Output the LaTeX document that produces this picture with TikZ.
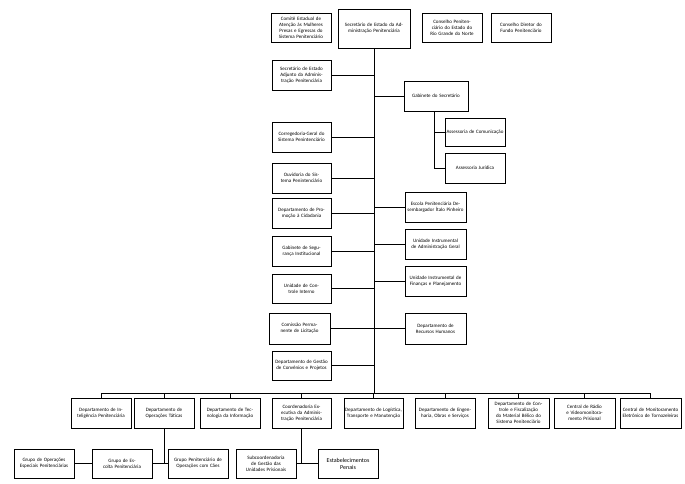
\documentclass[tikz,border=0pt]{standalone}
\usepackage{fontspec}
\setmainfont{Carlito}
\begin{document}
\begin{tikzpicture}[x=1pt,y=-1pt,
 bx/.style={draw,line width=0.8pt,align=center,font=\fontsize{5}{6}\selectfont,inner sep=1pt},
 ln/.style={line width=0.8pt}]
\useasboundingbox (0,0) rectangle (685,484);
\newcommand\bb[6]{\node[bx,minimum width={#4-#2},minimum height={#5-#3},text width={#4-#2-2}] (#1) at ({(#2+#4)/2},{(#3+#5)/2}) {#6};}
\bb{com}{271}{13}{331}{42}{Comitê Estadual de Atenção às Mulheres Presas e Egressas do Sistema Penitenciário}
\bb{sec}{338}{9}{410}{48}{Secretário de Estado da Administração Penitenciária}
\bb{cp}{422}{13}{482}{42}{Conselho Penitenciário do Estado do Rio Grande do Norte}
\bb{cd}{491}{13}{551}{42}{Conselho Diretor do Fundo Penitenciário}
\bb{adj}{272}{60}{331}{90}{Secretário de Estado Adjunto da Administração Penitenciária}
\bb{gab}{404}{81}{468}{111}{Gabinete do Secretário}
\bb{acom}{445}{118}{505}{146}{Assessoria de Comunicação}
\bb{ajur}{445}{153}{505}{183}{Assessoria Jurídica}
\bb{cor}{272}{122}{331}{152}{Corregedoria-Geral do Sistema Penintenciário}
\bb{ouv}{272}{163}{331}{193}{Ouvidoria do Sistema Penintenciário}
\bb{pro}{272}{198}{331}{228}{Departamento de Promoção à Cidadania}
\bb{esc}{405}{192}{466}{222}{Escola Penitenciária Desembargador Ítalo Pinheiro}
\bb{gsi}{272}{236}{331}{266}{Gabinete de Segurança Institucional}
\bb{uag}{405}{229}{466}{259}{Unidade Instrumental de Administração Geral}
\bb{uci}{272}{274}{331}{303}{Unidade de Controle Interno}
\bb{ufp}{405}{266}{466}{296}{Unidade Instrumental de Finanças e Planejamento}
\bb{cpl}{269}{313}{330}{344}{Comissão Permanente de Licitação}
\bb{drh}{405}{313}{466}{344}{Departamento de Recursos Humanos}
\bb{dgc}{272}{351}{331}{380}{Departamento de Gestão de Convênios e Projetos}
\bb{int}{71}{398}{131}{428}{Departamento de Inteligência Penitenciária}
\bb{opt}{134}{398}{194}{428}{Departamento de Operações Táticas}
\bb{ti}{200}{398}{260}{428}{Departamento de Tecnologia da Informação}
\bb{coe}{272}{398}{331}{428}{Coordenadoria Executiva da Administração Penitenciária}
\bb{log}{344}{398}{403}{428}{Departamento de Logística, Transporte e Manutenção}
\bb{eng}{415}{398}{475}{428}{Departamento de Engenharia, Obras e Serviços}
\bb{cfm}{488}{398}{549}{428}{Departamento de Controle e Fiscalização do Material Bélico do Sistema Penitenciário}
\bb{rad}{554}{398}{615}{428}{Central de Rádio e Videomonitoramento Prisional}
\bb{tor}{620}{398}{681}{428}{Central de Monitoramento Eletrônico de Tornozeleiras}
\bb{goe}{14}{449}{74}{478}{Grupo de Operações Especiais Penitenciárias}
\bb{gep}{92}{449}{152}{478}{Grupo de Escolta Penitenciária}
\bb{gco}{168}{449}{228}{478}{Grupo Penitenciário de Operações com Cães}
\bb{sub}{236}{449}{296}{478}{Subcoordenadoria de Gestão das Unidades Prisionais}
\node[bx,font=\fontsize{6}{7}\selectfont,minimum width=60,minimum height=29,text width=58] (est) at (348,463.5) {Estabelecimentos Penais};
% spine
\coordinate (sp) at (374,393);
\draw[ln] (sec.south) -- (sp);
\foreach \n/\y in {adj/75,cor/137,ouv/178,pro/213,gsi/251,uci/288,cpl/328,dgc/365}
  \draw[ln] (\n.east |- 0,\y) -- (374,\y);
\foreach \n/\y in {gab/96,esc/207,uag/244,ufp/281,drh/328}
  \draw[ln] (374,\y) -- (\n.west |- 0,\y);
\draw[ln] (gab.south -| 434,0) -- (434,168);
\draw[ln] (434,132) -- (acom.west |- 0,132);
\draw[ln] (434,168) -- (ajur.west |- 0,168);
% bus
\draw[ln] (int.north |- 0,393) -- (tor.north |- 0,393);
\foreach \n in {int,opt,ti,coe,log,eng,cfm,rad,tor}
  \draw[ln] (\n.north |- 0,393) -- (\n.north);
\draw[ln] (opt.south) -- (opt.south |- 0,463.5);
\draw[ln] (goe.east) -- (gep.west);
\draw[ln] (gep.east) -- (gco.west);
\draw[ln] (coe.south) -- (coe.south |- 0,463.5);
\draw[ln] (sub.east) -- (est.west);
\end{tikzpicture}
\end{document}
